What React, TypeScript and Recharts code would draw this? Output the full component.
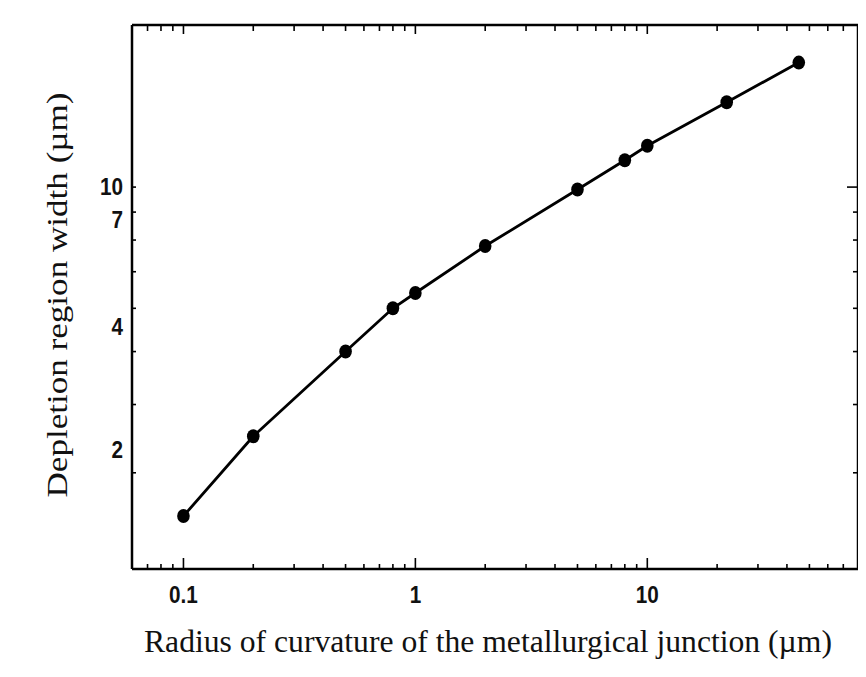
import { LineChart, Line, XAxis, YAxis, Label } from "recharts";

// radius of curvature (µm) and depletion region width (µm)
const radius = [0.1, 0.2, 0.5, 0.8, 1, 2, 5, 8, 10, 22, 45];
const depletionWidth = [2.5, 3.5, 5.0, 6.0, 6.4, 7.8, 9.9, 11.2, 11.9, 14.3, 16.9];

const xDomain = [0.06, 81];
const yDomain = [2, 19.8];

const xMajor = [0.1, 1, 10];
const xTicks = [
  0.07, 0.08, 0.09, 0.1,
  0.2, 0.3, 0.4, 0.5, 0.6, 0.7, 0.8, 0.9, 1,
  2, 3, 4, 5, 6, 7, 8, 9, 10,
  20, 30, 40, 50, 60, 70,
];
const yTicks = [3, 4, 5, 6, 7, 8, 9, 10];

// printed y labels and the height (in µm on the log axis) each one sits at
const yLabelText = ["10", "7", "4", "2"];
const yLabelAt = [10, 8.7, 5.55, 3.3];

const rows = radius.map((r, i) => ({ r, w: depletionWidth[i] }));

const INK = "#000";
const SANS = "'Liberation Sans', Arial, sans-serif";
const SERIF = "'Liberation Serif', 'Times New Roman', serif";

const PLOT_TOP = 17;

// tall, slightly narrow digits
const TickText = ({ x, y, anchor, children }: any) => (
  <text transform={`translate(${x} ${y}) scale(0.9 1)`} textAnchor={anchor} dominantBaseline="central"
    fontFamily={SANS} fontSize={23} fontWeight="bold" fill="#111">
    {children}
  </text>
);

// bottom tick also draws its mirror on the top edge of the box
const BottomTick = (props: any) => {
  const { x, y, payload } = props;
  const major = xMajor.includes(payload.value);
  return (
    <g>
      <line x1={x} x2={x} y1={y} y2={y - (major ? 11 : 5)} stroke={INK} strokeWidth={1.6} />
      <line x1={x} x2={x} y1={PLOT_TOP} y2={PLOT_TOP + (major ? 9 : 6)} stroke={INK} strokeWidth={1.6} />
      {major && <TickText x={x} y={y + 26} anchor="middle">{payload.value}</TickText>}
    </g>
  );
};

const LeftTick = (props: any) => {
  const { x, y, payload } = props;
  const li = yLabelAt.indexOf(payload.value);
  const isMark = yTicks.includes(payload.value);
  return (
    <g>
      {isMark && <line x1={x} x2={x + 4} y1={y} y2={y} stroke={INK} strokeWidth={1.6} />}
      {li >= 0 && <TickText x={x - 9} y={y} anchor="end">{yLabelText[li]}</TickText>}
    </g>
  );
};

const RightTick = (props: any) => {
  const { x, y, payload } = props;
  const len = payload.value === 10 ? 11 : 5;
  return <line x1={x} x2={x - len} y1={y} y2={y} stroke={INK} strokeWidth={1.6} />;
};

const Dot = (props: any) => {
  const { cx, cy, index } = props;
  if (cx == null || cy == null) return null;
  return <ellipse key={`d-${index}`} cx={cx} cy={cy} rx={6.3} ry={7} fill={INK} />;
};

const XTitle = () => (
  <text x={480} y={644} textAnchor="middle" fontFamily={SERIF} fontSize={31} fill="#111"
    textLength={688} lengthAdjust="spacingAndGlyphs">
    Radius of curvature of the metallurgical  junction (µm)
  </text>
);

const YTitle = () => (
  <text x={0} y={0} transform="translate(59 287) rotate(-90)" textAnchor="middle"
    fontFamily={SERIF} fontSize={29} fill="#111" textLength={405} lengthAdjust="spacingAndGlyphs">
    Depletion region width (µm)
  </text>
);

const axisLine = { stroke: INK, strokeWidth: 2.5 };

export default function App() {
  return (
    <LineChart width={858} height={661} data={rows} margin={{ top: PLOT_TOP - 1, right: 7, bottom: 0, left: 0 }}>
      <XAxis xAxisId="bottom" dataKey="r" type="number" scale="log" domain={xDomain}
        allowDataOverflow ticks={xTicks} interval={0} height={100}
        tick={BottomTick} tickLine={false} tickSize={0} tickMargin={0} axisLine={axisLine}>
        <Label content={XTitle} />
      </XAxis>
      <XAxis xAxisId="top" orientation="top" type="number" scale="log" domain={xDomain}
        allowDataOverflow height={1} tick={false} tickLine={false} axisLine={axisLine} />
      <YAxis yAxisId="left" type="number" scale="log" domain={yDomain} allowDataOverflow
        ticks={[...yTicks, ...yLabelAt.filter((v) => !yTicks.includes(v))]} interval={0} width={124}
        tick={LeftTick} tickLine={false} tickSize={0} tickMargin={0} axisLine={axisLine}>
        <Label content={YTitle} />
      </YAxis>
      <YAxis yAxisId="right" orientation="right" type="number" scale="log" domain={yDomain}
        allowDataOverflow ticks={yTicks} interval={0} width={1}
        tick={RightTick} tickLine={false} tickSize={0} tickMargin={0} axisLine={axisLine} />
      <Line xAxisId="bottom" yAxisId="left" dataKey="w" stroke={INK} strokeWidth={2.8}
        dot={Dot} activeDot={false} isAnimationActive={false} />
    </LineChart>
  );
}
